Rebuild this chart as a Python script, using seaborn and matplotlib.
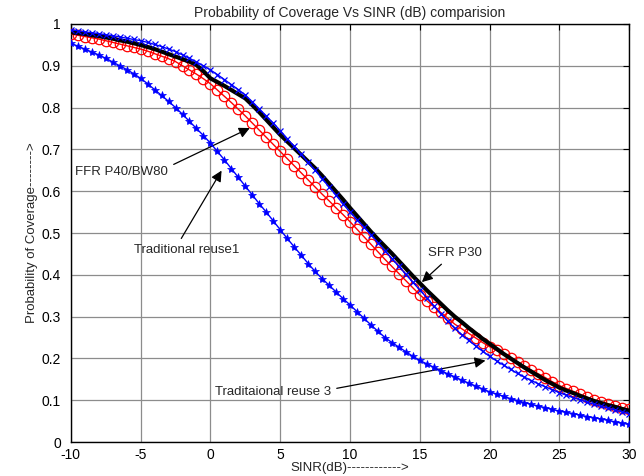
import numpy as np
import pandas as pd
import matplotlib
matplotlib.use("Agg")
import matplotlib.pyplot as plt
import seaborn as sns

# ---------------- data ----------------
sinr_db = [-10.0, -9.5, -9.0, -8.5, -8.0, -7.5, -7.0, -6.5, -6.0, -5.5,
           -5.0, -4.5, -4.0, -3.5, -3.0, -2.5, -2.0, -1.5, -1.0, -0.5,
           0.0, 0.5, 1.0, 1.5, 2.0, 2.5, 3.0, 3.5, 4.0, 4.5,
           5.0, 5.5, 6.0, 6.5, 7.0, 7.5, 8.0, 8.5, 9.0, 9.5,
           10.0, 10.5, 11.0, 11.5, 12.0, 12.5, 13.0, 13.5, 14.0, 14.5,
           15.0, 15.5, 16.0, 16.5, 17.0, 17.5, 18.0, 18.5, 19.0, 19.5,
           20.0, 20.5, 21.0, 21.5, 22.0, 22.5, 23.0, 23.5, 24.0, 24.5,
           25.0, 25.5, 26.0, 26.5, 27.0, 27.5, 28.0, 28.5, 29.0, 29.5,
           30.0]

traditional_reuse1 = [0.954, 0.947, 0.940, 0.933, 0.926, 0.918, 0.909, 0.900, 0.891, 0.881,
                      0.870, 0.857, 0.843, 0.829, 0.815, 0.800, 0.784, 0.767, 0.750, 0.733,
                      0.715, 0.695, 0.675, 0.654, 0.633, 0.612, 0.591, 0.570, 0.550, 0.529,
                      0.508, 0.487, 0.467, 0.447, 0.427, 0.408, 0.391, 0.375, 0.359, 0.343,
                      0.328, 0.312, 0.296, 0.280, 0.265, 0.250, 0.238, 0.227, 0.216, 0.205,
                      0.195, 0.187, 0.179, 0.171, 0.163, 0.156, 0.148, 0.141, 0.134, 0.127,
                      0.120, 0.115, 0.109, 0.104, 0.099, 0.094, 0.090, 0.086, 0.082, 0.078,
                      0.074, 0.071, 0.068, 0.064, 0.061, 0.058, 0.055, 0.052, 0.048, 0.045,
                      0.042]

traditional_reuse3 = [0.986, 0.984, 0.981, 0.979, 0.977, 0.974, 0.972, 0.969, 0.966, 0.963,
                      0.960, 0.956, 0.951, 0.946, 0.940, 0.934, 0.926, 0.918, 0.909, 0.900,
                      0.890, 0.879, 0.867, 0.855, 0.843, 0.830, 0.814, 0.797, 0.780, 0.763,
                      0.745, 0.726, 0.707, 0.688, 0.669, 0.650, 0.630, 0.610, 0.590, 0.570,
                      0.550, 0.532, 0.514, 0.496, 0.477, 0.458, 0.439, 0.420, 0.401, 0.382,
                      0.364, 0.345, 0.326, 0.307, 0.289, 0.272, 0.257, 0.243, 0.230, 0.217,
                      0.205, 0.194, 0.184, 0.174, 0.164, 0.155, 0.147, 0.139, 0.132, 0.125,
                      0.118, 0.112, 0.106, 0.101, 0.095, 0.090, 0.085, 0.081, 0.076, 0.072,
                      0.068]

sfr_p30 = [0.980, 0.978, 0.976, 0.973, 0.971, 0.968, 0.965, 0.961, 0.958, 0.954,
           0.950, 0.945, 0.940, 0.934, 0.928, 0.922, 0.916, 0.910, 0.902, 0.887,
           0.870, 0.861, 0.852, 0.842, 0.832, 0.822, 0.806, 0.789, 0.771, 0.753,
           0.735, 0.719, 0.703, 0.687, 0.671, 0.655, 0.637, 0.618, 0.599, 0.580,
           0.560, 0.541, 0.522, 0.503, 0.485, 0.468, 0.451, 0.433, 0.415, 0.397,
           0.380, 0.363, 0.347, 0.331, 0.315, 0.300, 0.287, 0.273, 0.260, 0.247,
           0.235, 0.223, 0.211, 0.200, 0.189, 0.178, 0.168, 0.158, 0.148, 0.139,
           0.130, 0.123, 0.117, 0.110, 0.104, 0.098, 0.093, 0.088, 0.084, 0.079,
           0.075]

ffr_p40_bw80 = [0.976, 0.973, 0.970, 0.967, 0.964, 0.960, 0.956, 0.952, 0.948, 0.944,
                0.940, 0.935, 0.929, 0.923, 0.917, 0.910, 0.900, 0.890, 0.880, 0.869,
                0.857, 0.842, 0.827, 0.812, 0.796, 0.780, 0.763, 0.746, 0.729, 0.712,
                0.695, 0.678, 0.661, 0.644, 0.627, 0.610, 0.593, 0.577, 0.560, 0.544,
                0.527, 0.509, 0.491, 0.473, 0.455, 0.437, 0.420, 0.403, 0.386, 0.369,
                0.352, 0.338, 0.324, 0.310, 0.296, 0.282, 0.271, 0.260, 0.249, 0.238,
                0.228, 0.219, 0.210, 0.200, 0.191, 0.182, 0.172, 0.163, 0.154, 0.144,
                0.135, 0.128, 0.121, 0.114, 0.107, 0.100, 0.096, 0.091, 0.087, 0.082,
                0.078]

x_ticks = [-10, -5, 0, 5, 10, 15, 20, 25, 30]
y_ticks = [0, 0.1, 0.2, 0.3, 0.4, 0.5, 0.6, 0.7, 0.8, 0.9, 1]
y_tick_labels = ["0", "0.1", "0.2", "0.3", "0.4", "0.5", "0.6", "0.7", "0.8", "0.9", "1"]

# ---------------- styling ----------------
sns.set_style("white")
plt.rcParams["font.family"] = ["Liberation Sans", "DejaVu Sans"]

df = pd.DataFrame({
    "sinr": sinr_db,
    "reuse1": traditional_reuse1,
    "reuse3": traditional_reuse3,
    "sfr": sfr_p30,
    "ffr": ffr_p40_bw80,
})

fig = plt.figure(figsize=(6.44, 4.76), dpi=100)
ax = fig.add_axes([0.110, 0.0714, 0.867, 0.8782])

sns.lineplot(data=df, x="sinr", y="ffr", ax=ax, color="red", lw=1.0,
             marker="o", markersize=7.5, markerfacecolor="none",
             markeredgecolor="red", markeredgewidth=0.9, zorder=3)
sns.lineplot(data=df, x="sinr", y="sfr", ax=ax, color="black", lw=3.0, zorder=4)
sns.lineplot(data=df, x="sinr", y="reuse3", ax=ax, color="#0000ff", lw=1.0,
             marker="x", markersize=5, markeredgecolor="#0000ff",
             markeredgewidth=0.9, zorder=5)
sns.lineplot(data=df, x="sinr", y="reuse1", ax=ax, color="#0000ff", lw=1.0,
             marker="*", markersize=6, markeredgecolor="#0000ff",
             markerfacecolor="#0000ff", markeredgewidth=0.5, zorder=5)

ax.set_xlim(-10, 30)
ax.set_ylim(0, 1)
ax.set_xticks(x_ticks)
ax.set_xticklabels([str(t) for t in x_ticks])
ax.set_yticks(y_ticks)
ax.set_yticklabels(y_tick_labels)
ax.grid(True, color="#8c8c8c", lw=0.9, ls="-")
ax.set_axisbelow(True)
for s in ax.spines.values():
    s.set_color("black")
    s.set_linewidth(1.0)
ax.tick_params(direction="in", length=4, width=0.8, labelsize=10,
               top=True, right=True, colors="black")
ax.tick_params(axis="x", pad=4)
ax.tick_params(axis="y", pad=7)

ax.set_title("Probability of Coverage Vs SINR (dB) comparision", fontsize=10, pad=5)
ax.set_xlabel("SINR(dB)------------>", fontsize=9.5, labelpad=0)
ax.set_ylabel("Probability of Coverage-------->", fontsize=9.5, labelpad=3)

arrow = dict(arrowstyle="-|>", color="black", lw=0.9, mutation_scale=16)
ax.annotate("FFR P40/BW80", xy=(3.0, 0.754), xytext=(-9.7, 0.646),
            fontsize=9.5, va="center", ha="left",
            arrowprops=dict(arrow, relpos=(1.0, 0.9)))
ax.annotate("Traditional reuse1", xy=(0.9, 0.655), xytext=(-5.5, 0.459),
            fontsize=9.5, va="center", ha="left",
            arrowprops=dict(arrow, relpos=(0.42, 1.0)))
ax.annotate("SFR P30", xy=(15.0, 0.378), xytext=(15.6, 0.452),
            fontsize=9.5, va="center", ha="left",
            arrowprops=dict(arrow, relpos=(0.35, 0.0)))
ax.annotate("Traditaional reuse 3", xy=(19.9, 0.196), xytext=(0.3, 0.12),
            fontsize=9.5, va="center", ha="left",
            arrowprops=dict(arrow, relpos=(1.0, 0.7)))

fig.savefig("out.png", dpi=100)
